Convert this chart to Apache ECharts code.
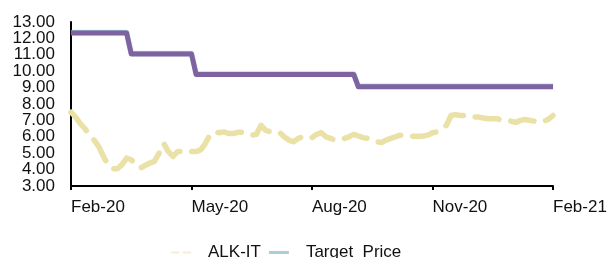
<!DOCTYPE html>
<html>
<head>
<meta charset="utf-8">
<script src="https://cdn.jsdelivr.net/npm/echarts@6/dist/echarts.min.js"></script>
<style>
    html, body { margin: 0; padding: 0; background: #fff; }
    #chart { width: 613px; height: 258px; }
</style>
</head>
<body>
<div id="chart"></div>
<script>
// tick labels on the x axis, one every 26 points
const tickLabels = ['Feb-20', 'May-20', 'Aug-20', 'Nov-20', 'Feb-21'];
const blockStarts = ['2020-02-01', '2020-05-01', '2020-08-01', '2020-11-01', '2021-02-01'];
const stepsPerBlock = 26;

// ALK-IT share price, about two points a week
const price = [
    7.5, 7.2, 6.8, 6.5, 6.1, 5.8, 5.4, 4.8, 4.3, 4.05,
    4.05, 4.3, 4.7, 4.6, 4.3, 4.1, 4.25, 4.4, 4.5, 5.0,
    5.6, 5.1, 4.8, 5.1, 5.1, 5.15, 5.1, 5.1, 5.2, 5.6,
    6.15, 6.3, 6.25, 6.3, 6.2, 6.2, 6.27, 6.27, 6.2, 6.1,
    6.15, 6.7, 6.4, 6.3, 6.27, 6.27, 6.0, 5.8, 5.7, 5.9,
    6.0, 6.05, 5.95, 6.15, 6.25, 6.0, 5.9, 5.8, 5.8, 5.9,
    6.0, 6.15, 6.05, 5.95, 5.9, 5.75, 5.7, 5.65, 5.8, 5.9,
    6.0, 6.1, 6.1, 6.05, 6.03, 6.03, 6.05, 6.1, 6.25, 6.3,
    6.5, 6.7, 7.3, 7.35, 7.3, 7.3, 7.25, 7.2, 7.2, 7.15,
    7.1, 7.1, 7.1, 7.0, 7.0, 6.95, 6.88, 7.0, 7.05, 7.0,
    6.95, 6.88, 6.95, 7.06, 7.3
];

// target price levels and the point index where each one starts
const targetLevels = [12.33, 11.05, 9.8, 9.05];
const targetStarts = [0, 13, 27, 62];

// y axis range
const yMin = 3;
const yMax = 13;

// categories: dates between the block starts
const categories = [];
for (let b = 0; b < blockStarts.length - 1; b++) {
    const t0 = new Date(blockStarts[b]).getTime();
    const t1 = new Date(blockStarts[b + 1]).getTime();
    for (let j = 0; j < stepsPerBlock; j++) {
        const d = new Date(t0 + (t1 - t0) * j / stepsPerBlock);
        categories.push(d.toISOString().slice(0, 10));
    }
}
categories.push(blockStarts[blockStarts.length - 1]);

const target = categories.map((c, i) => {
    let level = targetLevels[0];
    targetStarts.forEach((s, k) => {
        if (i >= s) level = targetLevels[k];
    });
    return level;
});

const font = 'Liberation Sans, Arial, sans-serif';
const chart = echarts.init(document.getElementById('chart'));

// the labels sit closer than their height, so odd and even values
// go on two stacked axes to keep ECharts from dropping any of them
const yLabel = keepOdd => ({
    margin: 16,
    color: '#111',
    fontSize: 17,
    fontFamily: font,
    showMinLabel: true,
    showMaxLabel: true,
    formatter: v => ((v % 2 === 1) === keepOdd ? v.toFixed(2) : '')
});

chart.setOption({
    animation: false,
    grid: {
        left: 71,
        right: 60,
        top: 22,
        bottom: 72
    },
    legend: {
        left: 166,
        top: 239,
        itemGap: 8,
        itemWidth: 20,
        itemHeight: 3,
        textStyle: {
            color: '#111',
            fontSize: 17,
            fontFamily: font,
            padding: [0, 0, 0, 12]
        },
        data: [
            {
                name: 'ALK-IT',
                icon: 'path://M0,0H8V2H0Z M11,0H19V2H11Z',
                itemStyle: { color: '#f4efd6' }
            },
            {
                name: 'Target  Price',
                icon: 'rect',
                itemStyle: { color: '#a9cfdc' }
            }
        ]
    },
    xAxis: {
        type: 'category',
        boundaryGap: false,
        data: categories,
        axisLine: {
            lineStyle: { color: '#000', width: 2 }
        },
        axisTick: {
            interval: stepsPerBlock - 1,
            length: 4,
            lineStyle: { color: '#000', width: 2 }
        },
        axisLabel: {
            interval: stepsPerBlock - 1,
            align: 'left',
            margin: 13,
            color: '#111',
            fontSize: 17,
            fontFamily: font,
            formatter: (value, index) => tickLabels[index / stepsPerBlock] || ''
        }
    },
    yAxis: [
        {
            type: 'value',
            min: yMin,
            max: yMax,
            interval: 1,
            splitLine: { show: false },
            axisTick: { show: false },
            axisLine: {
                show: true,
                lineStyle: { color: '#000', width: 2 }
            },
            axisLabel: yLabel(true)
        },
        {
            type: 'value',
            position: 'left',
            min: yMin,
            max: yMax,
            interval: 1,
            splitLine: { show: false },
            axisTick: { show: false },
            axisLine: { show: false },
            axisLabel: yLabel(false)
        }
    ],
    series: [
        {
            name: 'ALK-IT',
            type: 'line',
            data: price,
            symbol: 'none',
            lineStyle: {
                color: '#e9e1a6',
                width: 5.5,
                type: [24, 12],
                cap: 'round',
                join: 'round'
            }
        },
        {
            name: 'Target  Price',
            type: 'line',
            data: target,
            symbol: 'none',
            lineStyle: {
                color: '#7f63a1',
                width: 5,
                join: 'round',
                shadowColor: 'rgba(140, 195, 210, 0.9)',
                shadowBlur: 1,
                shadowOffsetY: -0.5
            }
        }
    ]
});
</script>
</body>
</html>
